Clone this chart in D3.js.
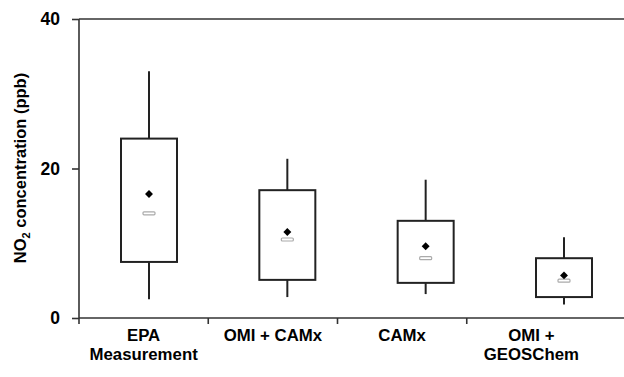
<!DOCTYPE html>
<html><head><meta charset="utf-8">
<script src="https://cdn.jsdelivr.net/npm/d3@7"></script>
<style>body{margin:0;background:#fff}svg{display:block}</style>
</head><body>
<svg id="c" width="624" height="377"></svg>
<script>
const categories = ["EPA|Measurement", "OMI + CAMx", "CAMx", "OMI +|GEOSChem"];
const whiskerLow  = [2.5, 2.8, 3.2, 1.8];
const q1          = [7.5, 5.1, 4.7, 2.8];
const median      = [14.0, 10.5, 8.0, 5.0];
const mean        = [16.6, 11.5, 9.6, 5.7];
const q3          = [24.0, 17.1, 13.0, 8.0];
const whiskerHigh = [33.0, 21.3, 18.5, 10.8];
const yTicks = [0, 20, 40];

const svg = d3.select("#c");
const W = 624;
const y = d3.scaleLinear().domain([0, 40]).range([318, 19]);
const xBand = d3.scaleBand().domain(categories).range([79, 596]);
const xBox = d3.scalePoint().domain(categories).range([149, 564]);
const boxW = 56;
const axisColor = "#333";
const font = "Liberation Sans, Arial, sans-serif";

svg.append("line").attr("x1", 79).attr("x2", W).attr("y1", y(40)).attr("y2", y(40))
  .attr("stroke", axisColor).attr("stroke-width", 1.6);
svg.append("line").attr("x1", 79).attr("x2", W).attr("y1", y(0)).attr("y2", y(0))
  .attr("stroke", axisColor).attr("stroke-width", 1.6);

const yAxis = d3.axisLeft(y).tickValues(yTicks).tickSize(7).tickPadding(12);
const gy = svg.append("g").attr("transform", "translate(79,0)").call(yAxis);
gy.select(".domain").remove();
gy.append("line").attr("x1", 0).attr("x2", 0).attr("y1", y(40)).attr("y2", y(0) + 6)
  .attr("stroke", axisColor).attr("stroke-width", 1.6);
gy.selectAll(".tick line").attr("stroke", axisColor).attr("stroke-width", 1.6);
gy.selectAll(".tick text").attr("font-family", font)
  .attr("font-weight", "bold").attr("font-size", 17.5).attr("fill", "#000");

svg.selectAll(".xt").data(categories.slice(1)).enter().append("line")
  .attr("x1", d => xBand(d)).attr("x2", d => xBand(d))
  .attr("y1", y(0)).attr("y2", y(0) + 6)
  .attr("stroke", axisColor).attr("stroke-width", 1.6);

const lab = svg.selectAll(".xl").data(categories).enter().append("text")
  .attr("text-anchor", "middle")
  .attr("font-family", font)
  .attr("font-weight", "bold").attr("font-size", 16.8).attr("fill", "#000");
lab.each(function(d) {
  const parts = d.split("|");
  const t = d3.select(this);
  parts.forEach((p, i) => {
    t.append("tspan").attr("x", xBand(d) + xBand.bandwidth() / 2)
      .attr("y", 341 + i * 19).text(p);
  });
});

const yt = svg.append("text").attr("transform", "translate(26,168) rotate(-90)")
  .attr("text-anchor", "middle")
  .attr("font-family", font)
  .attr("font-weight", "bold").attr("font-size", 16.5).attr("fill", "#000");
yt.append("tspan").text("NO");
yt.append("tspan").attr("font-size", 11).attr("dy", 4).text("2");
yt.append("tspan").attr("dy", -4).text(" concentration (ppb)");

const g = svg.selectAll(".box").data(categories).enter().append("g");
g.append("line").attr("x1", d => xBox(d)).attr("x2", d => xBox(d))
  .attr("y1", (d, i) => y(whiskerHigh[i])).attr("y2", (d, i) => y(q3[i]))
  .attr("stroke", "#222").attr("stroke-width", 2);
g.append("line").attr("x1", d => xBox(d)).attr("x2", d => xBox(d))
  .attr("y1", (d, i) => y(q1[i])).attr("y2", (d, i) => y(whiskerLow[i]))
  .attr("stroke", "#222").attr("stroke-width", 2);
g.append("rect").attr("x", d => xBox(d) - boxW / 2).attr("width", boxW)
  .attr("y", (d, i) => y(q3[i])).attr("height", (d, i) => y(q1[i]) - y(q3[i]))
  .attr("fill", "#fff").attr("stroke", "#222").attr("stroke-width", 2);
g.append("rect").attr("x", d => xBox(d) - 6).attr("width", 12)
  .attr("y", (d, i) => y(median[i]) - 1.5).attr("height", 3).attr("rx", 1)
  .attr("fill", "#fff").attr("stroke", "#aaa").attr("stroke-width", 1.2);
g.append("path").attr("d", d3.symbol(d3.symbolDiamond2, 40))
  .attr("transform", (d, i) => `translate(${xBox(d)},${y(mean[i])})`)
  .attr("fill", "#000");
</script>
</body></html>
